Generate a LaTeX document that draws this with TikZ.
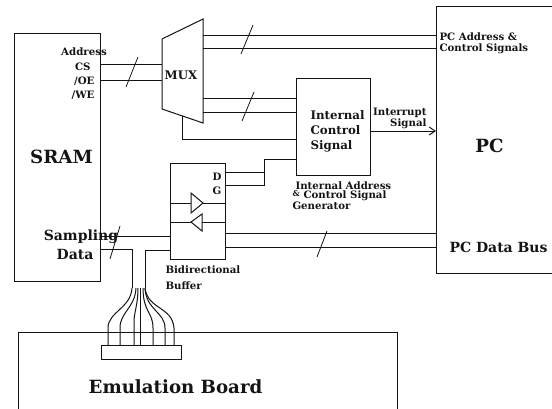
\documentclass[tikz,border=0pt]{standalone}
\usepackage{fontspec}
\usepackage{xcolor}
\usetikzlibrary{arrows.meta,positioning}
\setmainfont{DejaVu Serif}
\definecolor{FigureInk}{gray}{0.08}
\newcommand{\SmallText}{\fontsize{10.2}{11}\selectfont\bfseries}
\newcommand{\MidText}{\fontsize{11.8}{13}\selectfont\bfseries}
\newcommand{\LargeText}{\fontsize{14}{16}\selectfont\bfseries}
\newcommand{\BigText}{\fontsize{18.2}{20}\selectfont\bfseries}
\tikzset{
  figure/.style={x=1pt,y=-1pt,text=FigureInk,line width=1pt},
  block/.style={draw=FigureInk,line width=1pt,inner sep=0pt,anchor=north west},
  blank/.style={inner sep=0pt,anchor=north west},
  wire/.style={draw=FigureInk,line width=1pt},
  flow/.style={-{Straight Barb[length=6pt,width=8pt]},line width=1pt,draw=FigureInk},
  slash/.style={draw=FigureInk,line width=0.8pt},
  tag/.style={inner sep=0pt,font=\SmallText,align=left},
  title/.style={inner sep=0pt,font=\BigText},
}

\begin{document}
\begin{tikzpicture}[figure]
  \useasboundingbox (0,0) rectangle (552,408);

  % main blocks
  \node[block,minimum width=86pt,minimum height=248pt] (SRAM) at (14,33) {};
  \node[blank,minimum width=41pt,minimum height=69pt] (MUX) at (162,39) {};
  \node[block,minimum width=74pt,minimum height=97pt] (ICS) at (296,78) {};
  \node[block,minimum width=55pt,minimum height=96pt] (BUF) at (170,163) {};
  \node[blank,minimum width=116pt,minimum height=266pt] (PC) at (436,6) {};
  \node[blank,minimum width=378pt,minimum height=76pt] (EB) at (18,332) {};
  \node[block,minimum width=80pt,minimum height=14pt] (PLUG) at (101,345) {};

  \draw[wire] (MUX.north west) -- (203,19) -- (203,123) -- (MUX.south west) -- cycle;
  \draw[wire] (PC.north east) -- (PC.north west) -- (PC.south west) -- (PC.south east);
  \draw[wire] (EB.south west) -- (EB.north west) -- (EB.north east) -- (EB.south east);

  % SRAM to MUX
  \draw[wire] (SRAM.east |- 0,64) -- (MUX.west |- 0,64);
  \draw[wire] (SRAM.east |- 0,80) -- (MUX.west |- 0,80);
  \draw[slash] (138,57) -- (126,87);

  % MUX to PC
  \draw[wire] (203,35) -- (PC.west |- 0,35);
  \draw[wire] (203,48) -- (PC.west |- 0,48);
  \draw[slash] (253,25) -- (241,54);

  % MUX to control block
  \draw[wire] (203,98.5) -- (ICS.west |- 0,98.5);
  \draw[wire] (203,112) -- (ICS.west |- 0,112);
  \draw[slash] (254,92) -- (242,121);
  \draw[wire] (182,116) -- (182,139) -- (ICS.west |- 0,139);

  % control block to buffer
  \draw[wire] (ICS.west |- 0,159) -- (264,159) -- (264,185) -- (BUF.east |- 0,185);
  \draw[wire] (264,172.5) -- (BUF.east |- 0,172.5);
  \draw[flow] (ICS.east |- 0,131) -- (PC.west |- 0,131);

  % buffer inside
  \draw[wire] (191,193) -- (203,203) -- (191,213) -- cycle;
  \draw[wire] (191,222) -- (202,214) -- (202,231) -- cycle;
  \draw[wire] (BUF.west |- 0,203) -- (191,203);
  \draw[wire] (203,203) -- (BUF.east |- 0,203);
  \draw[wire] (BUF.west |- 0,222) -- (191,222);
  \draw[wire] (202,222) -- (BUF.east |- 0,222);

  % buffer to PC
  \draw[wire] (BUF.east |- 0,233) -- (PC.west |- 0,233);
  \draw[wire] (BUF.east |- 0,247) -- (PC.west |- 0,247);
  \draw[slash] (327,231) -- (317,257);

  % SRAM to buffer and cable
  \draw[wire] (SRAM.east |- 0,236) -- (BUF.west |- 0,236);
  \draw[wire] (SRAM.east |- 0,249) -- (132,249) -- (132,288);
  \draw[wire] (BUF.west |- 0,250) -- (145,250) -- (145,288);
  \draw[slash] (120,226) -- (110,259);

  \draw[wire] (132,288) .. controls (131,308) and (108,312) .. (108,328) -- (108,345);
  \draw[wire] (136,288) .. controls (135,308) and (120,312) .. (120,328) -- (120,345);
  \draw[wire] (138,288) .. controls (138,305) and (134,312) .. (134,322) -- (134,345);
  \draw[wire] (140,288) -- (140,345);
  \draw[wire] (143,288) .. controls (143,312) and (153,312) .. (153,328) -- (153,345);
  \draw[wire] (145,288) .. controls (146,310) and (165,312) .. (165,328) -- (165,345);
  \draw[wire] (145,288) .. controls (148,310) and (172,306) .. (174,328) -- (174,345);

  % labels
  \node[tag] (lblAddr) at (84,52) {Address};
  \node[tag,anchor=east] (lblCS) at (91,67) {CS};
  \node[tag,anchor=east] (lblOE) at (95,81) {/OE};
  \node[tag,anchor=east] (lblWE) at (95,95) {/WE};
  \node[title] (lblSRAM) at (61.5,157) {SRAM};
  \node[tag,font=\MidText] (lblMUX) at (181,75) {MUX};
  \node[tag,font=\MidText,anchor=west,align=left] (lblICS) at (310,131)
    {Internal\\[2pt]Control\\[2pt]Signal};
  \node[tag,anchor=east] (lblInt) at (427,113) {Interrupt};
  \node[tag,anchor=east] (lblSig) at (427,124) {Signal};
  \node[tag,anchor=west] (lblPCA) at (439,37) {PC Address \&};
  \node[tag,anchor=west] (lblPCC) at (439,49) {Control Signals};
  \node[title] (lblPC) at (489.5,146) {PC};
  \node[tag,font=\LargeText,anchor=west] (lblBus) at (449,247) {PC Data Bus};
  \node[tag,anchor=west] (lblIA) at (295,185.5) {Internal Address};
  \node[tag,anchor=west,font=\fontsize{8}{9}\selectfont\bfseries] (lblAmp) at (292,194) {\&};
  \node[tag,anchor=west] (lblCSig) at (303,195.5) {Control Signal};
  \node[tag,anchor=west] (lblGen) at (292,206) {Generator};
  \node[tag] (lblD) at (217,177) {D};
  \node[tag] (lblG) at (217,191) {G};
  \node[tag,font=\LargeText] (lblSamp) at (81,237) {Sampling};
  \node[tag,font=\LargeText] (lblData) at (75,254.5) {Data};
  \node[tag,anchor=west] (lblBi) at (165,270) {Bidirectional};
  \node[tag,anchor=west] (lblBuf) at (165,286) {Buffer};
  \node[title] (lblEB) at (175.5,387) {Emulation Board};
\end{tikzpicture}
\end{document}
